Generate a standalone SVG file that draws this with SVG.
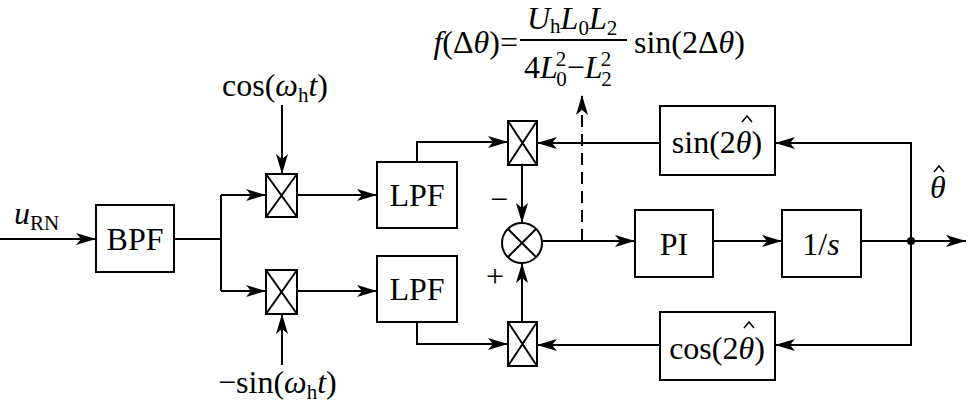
<svg xmlns="http://www.w3.org/2000/svg" width="968" height="408" viewBox="0 0 968 408">
<style>
.b{fill:#fff;stroke:#000;stroke-width:2}
.l{fill:none;stroke:#000;stroke-width:2}
.h{fill:none;stroke:#000;stroke-width:1.5}
text{font-family:"Liberation Serif","Times New Roman","DejaVu Serif",serif;font-size:32px;fill:#000}
.i{font-style:italic}
.s{font-size:21px}
</style>
<defs>
<marker id="a" viewBox="0 0 20 12" refX="20" refY="6" markerWidth="20" markerHeight="12" markerUnits="userSpaceOnUse" orient="auto">
<path d="M0,0 L20,6 L0,12 L5,6 Z" fill="#000"/>
</marker>
</defs>
<g id="connectors">
<path class="l" d="M0,239 H96" marker-end="url(#a)"/>
<path class="l" d="M174,239 H221 M221,195 V291"/>
<path class="l" d="M221,195 H266" marker-end="url(#a)"/>
<path class="l" d="M221,291 H266" marker-end="url(#a)"/>
<path class="l" d="M282,105 V174" marker-end="url(#a)"/>
<path class="l" d="M282,365 V314" marker-end="url(#a)"/>
<path class="l" d="M297,195 H377" marker-end="url(#a)"/>
<path class="l" d="M297,291 H377" marker-end="url(#a)"/>
<path class="l" d="M417,162 V142 H508" marker-end="url(#a)"/>
<path class="l" d="M417,322 V344 H508" marker-end="url(#a)"/>
<path class="l" d="M522,165 V223" marker-end="url(#a)"/>
<path class="l" d="M522,322 V263" marker-end="url(#a)"/>
<path class="l" d="M543,241 H635" marker-end="url(#a)"/>
<path class="l" d="M582,241 V95" stroke-dasharray="12,7" marker-end="url(#a)"/>
<path class="l" d="M713,241 H782" marker-end="url(#a)"/>
<path class="l" d="M861,241 H966" marker-end="url(#a)"/>
<path class="l" d="M911,241 V143 H775" marker-end="url(#a)"/>
<path class="l" d="M911,241 V345 H775" marker-end="url(#a)"/>
<path class="l" d="M660,143 H537" marker-end="url(#a)"/>
<path class="l" d="M660,345 H537" marker-end="url(#a)"/>
<circle cx="911" cy="241" r="4" fill="#000"/>
</g>
<g id="bpf"><rect class="b" x="96" y="205" width="78" height="67"/><text x="135" y="250" text-anchor="middle">BPF</text></g>
<g id="mul1"><rect class="b" x="266" y="174" width="31" height="43"/><path class="l" d="M266,174 L297,217 M297,174 L266,217"/></g>
<g id="mul2"><rect class="b" x="266" y="270" width="31" height="44"/><path class="l" d="M266,270 L297,314 M297,270 L266,314"/></g>
<g id="lpf1"><rect class="b" x="377" y="162" width="80" height="66"/><text x="417" y="206" text-anchor="middle">LPF</text></g>
<g id="lpf2"><rect class="b" x="377" y="256" width="80" height="66"/><text x="417" y="300" text-anchor="middle">LPF</text></g>
<g id="mul3"><rect class="b" x="508" y="121" width="29" height="44"/><path class="l" d="M508,121 L537,165 M537,121 L508,165"/></g>
<g id="mul4"><rect class="b" x="508" y="322" width="29" height="44"/><path class="l" d="M508,322 L537,366 M537,322 L508,366"/></g>
<g id="sum"><circle class="b" cx="522" cy="243" r="20"/><path class="l" d="M508,229 L536,257 M536,229 L508,257"/></g>
<g id="pi"><rect class="b" x="635" y="210" width="78" height="67"/><text x="674" y="255" text-anchor="middle">PI</text></g>
<g id="int"><rect class="b" x="782" y="210" width="79" height="67"/><text x="821" y="255" text-anchor="middle">1/<tspan class="i">s</tspan></text></g>
<g id="sinb"><rect class="b" x="660" y="106" width="115" height="69"/><text x="717" y="153" text-anchor="middle">sin(2<tspan class="i">θ</tspan>)</text><path class="h" d="M742,122 L747,116 L752,122"/></g>
<g id="cosb"><rect class="b" x="660" y="312" width="115" height="68"/><text x="717" y="359" text-anchor="middle">cos(2<tspan class="i">θ</tspan>)</text><path class="h" d="M744,328 L749,322 L754,328"/></g>
<g id="labels">
<text x="14" y="224" class="i">u<tspan class="s" font-style="normal" dy="6">RN</tspan></text>
<text x="222" y="96">cos(<tspan class="i">ω</tspan><tspan class="s" dy="6">h</tspan><tspan class="i" dy="-6">t</tspan>)</text>
<text x="218" y="393">−sin(<tspan class="i">ω</tspan><tspan class="s" dy="6">h</tspan><tspan class="i" dy="-6">t</tspan>)</text>
<text x="490" y="210">−</text>
<text x="486" y="287">+</text>
<text x="930" y="198" class="i">θ</text><path class="h" d="M934,172 L939,166 L944,172"/>
<text x="518" y="53" text-anchor="end"><tspan class="i">f</tspan>(Δ<tspan class="i">θ</tspan>)=</text>
<path class="l" d="M520,40 H627"/>
<text x="527" y="29"><tspan class="i">U</tspan><tspan class="s" dy="4">h</tspan><tspan class="i" dy="-4">L</tspan><tspan class="s" dy="6">0</tspan><tspan class="i" dy="-6">L</tspan><tspan class="s" dy="6">2</tspan></text>
<text x="524" y="78">4<tspan class="i">L</tspan><tspan class="s" dx="-2" dy="-12">2</tspan><tspan class="s" dx="-10" dy="20">0</tspan><tspan dy="-8">−</tspan><tspan class="i">L</tspan><tspan class="s" dx="-2" dy="-12">2</tspan><tspan class="s" dx="-10" dy="20">2</tspan></text>
<text x="634" y="53">sin(2Δ<tspan class="i">θ</tspan>)</text>
</g>
</svg>
